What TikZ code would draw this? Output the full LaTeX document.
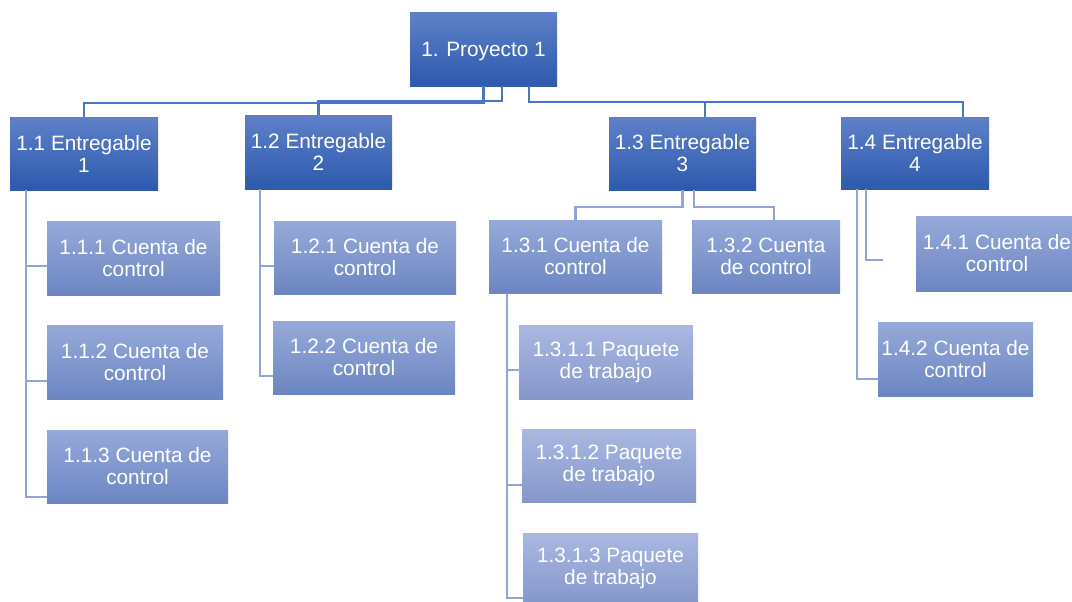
\documentclass[tikz,border=0pt]{standalone}
\usepackage{fontspec}
\setmainfont{Liberation Sans}
\usetikzlibrary{calc}

\definecolor{darktop}{HTML}{5F80C8}
\definecolor{darkbot}{HTML}{2D5AAE}
\definecolor{midtop}{HTML}{96A9D9}
\definecolor{midbot}{HTML}{6C86C2}
\definecolor{lighttop}{HTML}{AAB8E1}
\definecolor{lightbot}{HTML}{8597CB}
\definecolor{busline}{HTML}{4A74C4}
\definecolor{subline}{HTML}{8FA5D7}

\tikzset{
  box/.style={rectangle, inner sep=0pt, outer sep=0pt, text=white, align=center,
    font=\fontsize{15.6pt}{16.5pt}\selectfont},
  topbox/.style={box, top color=darktop, bottom color=darkbot},
  ctrlbox/.style={box, top color=midtop, bottom color=midbot},
  pkgbox/.style={box, top color=lighttop, bottom color=lightbot},
  wh/.style 2 args={minimum width=#1*0.75pt, minimum height=#2*0.75pt},
  bus/.style={draw=busline, line width=1.7pt},
  sub/.style={draw=subline, line width=2pt},
}

\begin{document}
\begin{tikzpicture}[x=0.75pt, y=-0.75pt]
\useasboundingbox (0,0) rectangle (1072,601);
\clip (0,0) rectangle (1072,601);

% top level
\node[topbox, wh={147}{74}, text depth=0pt] (root) at (483.5,49) {1. Proyecto 1};

% deliverables
\node[topbox, wh={148}{73}] (e1) at (84,153.5) {1.1 Entregable\\1};
\node[topbox, wh={147}{74}] (e2) at (318.5,152) {1.2 Entregable\\2};
\node[topbox, wh={147}{73}] (e3) at (682.5,153.5) {1.3 Entregable\\3};
\node[topbox, wh={148}{72}] (e4) at (915,153) {1.4 Entregable\\4};

% control accounts
\node[ctrlbox, wh={173}{74}] (c111) at (133.5,258) {1.1.1 Cuenta de\\control};
\node[ctrlbox, wh={176}{74}] (c112) at (135,362) {1.1.2 Cuenta de\\control};
\node[ctrlbox, wh={181}{73}] (c113) at (137.5,466.5) {1.1.3 Cuenta de\\control};
\node[ctrlbox, wh={182}{73}] (c121) at (365,257.5) {1.2.1 Cuenta de\\control};
\node[ctrlbox, wh={182}{73}] (c122) at (364,357.5) {1.2.2 Cuenta de\\control};
\node[ctrlbox, wh={173}{73}] (c131) at (575.5,256.5) {1.3.1 Cuenta de\\control};
\node[ctrlbox, wh={148}{73}] (c132) at (766,256.5) {1.3.2 Cuenta\\de control};
\node[ctrlbox, wh={162}{75}] (c141) at (997,253.5) {1.4.1 Cuenta de\\control};
\node[ctrlbox, wh={155}{74}] (c142) at (955.5,359) {1.4.2 Cuenta de\\control};

% work packages
\node[pkgbox, wh={174}{74}] (p1) at (606,362) {1.3.1.1 Paquete\\de trabajo};
\node[pkgbox, wh={174}{73}] (p2) at (609,465.5) {1.3.1.2 Paquete\\de trabajo};
\node[pkgbox, wh={175}{70}] (p3) at (610.5,568) {1.3.1.3 Paquete\\de trabajo};

% project -> deliverables
\draw[bus] (root.south) -- ++(0,17) -| (e1.north);
\draw[bus] ($(root.south)+(18.5,0)$) -- ++(0,15) -| (e2.north);
\draw[bus] ($(root.south)+(45.5,0)$) -- ++(0,16) -| ($(e3.north)+(22.5,0)$);
\draw[bus] ($(root.south)+(45.5,0)$) -- ++(0,16) -| ($(e4.north)+(48,0)$);

% deliverable 1 -> accounts
\draw[sub] ($(e1.south west)+(16,0)$) |- ($(c111.west)+(0,8)$);
\draw[sub] ($(e1.south west)+(16,0)$) |- ($(c112.west)+(0,19)$);
\draw[sub] ($(e1.south west)+(16,0)$) |- ($(c113.west)+(0,30.5)$);

% deliverable 2 -> accounts
\draw[sub] ($(e2.south west)+(15,0)$) |- ($(c121.west)+(0,8.5)$);
\draw[sub] ($(e2.south west)+(15,0)$) |- ($(c122.west)+(0,18.5)$);

% deliverable 3 -> accounts
\draw[sub] (e3.south) -- ++(0,17) -| (c131.north);
\draw[sub] ($(e3.south)+(11.5,0)$) -- ++(0,17) -| ($(c132.north)+(8,0)$);

% deliverable 4 -> accounts
\coordinate (stub) at (883,260);
\draw[sub] ($(e4.south west)+(16,0)$) |- ($(c142.west)+(0,20)$);
\draw[sub] ($(e4.south west)+(25,0)$) |- (stub);

% account 1.3.1 -> work packages
\draw[sub] ($(c131.south west)+(18,0)$) |- ($(p1.west)+(0,8)$);
\draw[sub] ($(c131.south west)+(18,0)$) |- ($(p2.west)+(0,19.5)$);
\draw[sub] ($(c131.south west)+(18,0)$) |- ($(p3.west)+(0,30)$);
\end{tikzpicture}
\end{document}
